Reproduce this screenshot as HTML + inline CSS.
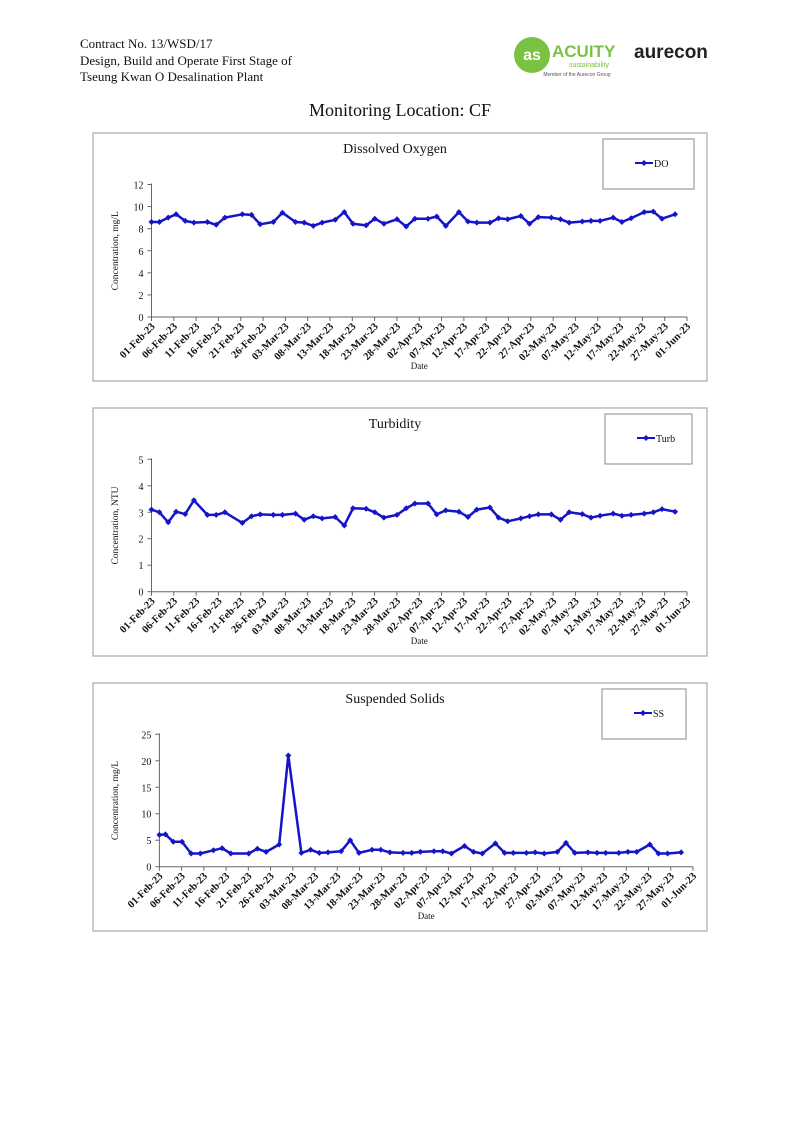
<!DOCTYPE html>
<html><head><meta charset="utf-8"><style>
body{margin:0;background:#fff;width:794px;height:1122px;position:relative;overflow:hidden;font-family:"Liberation Serif",serif}
.h{position:absolute;left:80px;top:36px;font-size:13px;line-height:16.5px;color:#111}
</style></head><body>
<div class="h">Contract No. 13/WSD/17<br>Design, Build and Operate First Stage of<br>Tseung Kwan O Desalination Plant</div>
<svg width="794" height="1122" style="position:absolute;left:0;top:0" id="s">
<circle cx="532" cy="55" r="18" fill="#7cc242"/>
<text x="532" y="60" font-family="Liberation Sans,sans-serif" font-size="16" fill="#fff" text-anchor="middle" font-weight="bold">as</text>
<text x="552" y="57" font-family="Liberation Sans,sans-serif" font-size="17" fill="#7cc242" font-weight="bold">ACUITY</text>
<text x="589" y="67" font-family="Liberation Sans,sans-serif" font-size="7" fill="#7cc242" text-anchor="middle">sustainability</text>
<text x="577" y="76" font-family="Liberation Sans,sans-serif" font-size="5" fill="#555" text-anchor="middle">Member of the Aurecon Group</text>
<text x="634" y="58" font-family="Liberation Sans,sans-serif" font-size="19" fill="#222" font-weight="bold">aurecon</text>
<text x="400" y="116" font-size="18" text-anchor="middle" fill="#111">Monitoring Location: CF</text>
</svg>
<script>
var s=document.getElementById('s'),NS='http://www.w3.org/2000/svg';
function el(t,a,txt){var e=document.createElementNS(NS,t);for(var k in a)e.setAttribute(k,a[k]);if(txt!=null)e.textContent=txt;s.appendChild(e);return e;}
var dates=["01-Feb-23","06-Feb-23","11-Feb-23","16-Feb-23","21-Feb-23","26-Feb-23","03-Mar-23","08-Mar-23","13-Mar-23","18-Mar-23","23-Mar-23","28-Mar-23","02-Apr-23","07-Apr-23","12-Apr-23","17-Apr-23","22-Apr-23","27-Apr-23","02-May-23","07-May-23","12-May-23","17-May-23","22-May-23","27-May-23","01-Jun-23"];
function chart(o){
 var T=o.T;
 el('rect',{x:93,y:T,width:614,height:248,fill:'none',stroke:'#999','stroke-width':1});
 el('text',{x:395,y:T+20,'font-size':14,'text-anchor':'middle',fill:'#111'},o.title);
 el('rect',{x:o.lx,y:T+6,width:o.lw,height:50,fill:'none',stroke:'#888','stroke-width':1});
 el('line',{x1:o.lx+32,y1:T+30,x2:o.lx+50,y2:T+30,stroke:'#1414c8','stroke-width':2});
 el('path',{d:'M'+(o.lx+41)+' '+(T+27)+'l3 3-3 3-3-3z',fill:'#1414c8'});
 el('text',{x:o.lx+51,y:T+34,'font-size':10,fill:'#111'},o.name);
 var x0=o.x0,x1=o.x1,y0=o.y0,y1=o.y1;
 el('line',{x1:x0,y1:y1-1,x2:x0,y2:y0,stroke:'#666'});
 el('line',{x1:x0,y1:y0,x2:x1,y2:y0,stroke:'#666'});
 for(var i=0;i<=o.n;i++){var y=y0-(y0-y1)*i/o.n;
  el('line',{x1:x0-4,y1:y,x2:x0,y2:y,stroke:'#666'});
  el('text',{x:x0-8,y:y+4,'font-size':10,'text-anchor':'end',fill:'#111'},String(i*o.step));}
 for(var j=0;j<25;j++){var x=x0+(x1-x0)*j/24;
  el('line',{x1:x,y1:y0,x2:x,y2:y0+4,stroke:'#666'});
  el('text',{x:x+4,y:y0+10,'font-size':10.5,'font-weight':'bold','text-anchor':'end',fill:'#111',transform:'rotate(-45 '+(x+4)+' '+(y0+10)+')'},dates[j]);}
 el('text',{x:(x0+x1)/2,y:T+236,'font-size':9,'text-anchor':'middle',fill:'#111'},'Date');
 el('text',{x:0,y:0,'font-size':9.5,'text-anchor':'middle',fill:'#111',transform:'translate(118 '+((y0+y1)/2)+') rotate(-90)'},o.ylab);
 var pts=[],zs=o.zs,ze=o.ze;
 o.d.forEach(function(p){var x=x0+(p[0]-zs)/(ze-zs)*(x1-x0);var y=y0-p[1]/(o.n*o.step)*(y0-y1);pts.push([x,y]);});
 el('polyline',{points:pts.map(function(p){return p[0].toFixed(1)+','+p[1].toFixed(1)}).join(' '),fill:'none',stroke:'#1414c8','stroke-width':2.5,'stroke-linejoin':'round'});
 pts.forEach(function(p){el('path',{d:'M'+p[0].toFixed(1)+' '+(p[1]-3).toFixed(1)+'l3 3-3 3-3-3z',fill:'#1414c8'});});
}
chart({T:133,title:'Dissolved Oxygen',name:'DO',lx:603,lw:91,x0:151.5,x1:687,y0:317,y1:184.5,n:6,step:2,zs:155,ze:1505,ylab:'Concentration, mg/L',
d:[[155,8.6],[175,8.6],[197,9.0],[217,9.3],[240,8.7],[262,8.55],[296,8.6],[318,8.35],[340,9.0],[384,9.3],[407,9.25],[429,8.4],[462,8.6],[485,9.45],[518,8.6],[540,8.55],[563,8.25],[585,8.55],[618,8.8],[641,9.5],[663,8.45],[696,8.3],[718,8.9],[741,8.45],[774,8.85],[797,8.2],[819,8.9],[852,8.9],[874,9.1],[897,8.25],[930,9.5],[953,8.65],[975,8.55],[1008,8.55],[1030,8.95],[1053,8.85],[1086,9.15],[1108,8.45],[1130,9.05],[1163,9.0],[1186,8.85],[1208,8.55],[1241,8.65],[1263,8.7],[1286,8.7],[1319,9.0],[1341,8.6],[1364,8.95],[1397,9.5],[1420,9.55],[1442,8.9],[1475,9.3]]});
chart({T:408,title:'Turbidity',name:'Turb',lx:605,lw:87,x0:151.5,x1:687,y0:591.7,y1:459.3,n:5,step:1,zs:155,ze:1505,ylab:'Concentration, NTU',
d:[[155,3.1],[175,3.0],[197,2.62],[217,3.02],[240,2.93],[262,3.45],[296,2.9],[318,2.9],[340,3.0],[384,2.6],[407,2.85],[429,2.92],[462,2.9],[485,2.9],[518,2.95],[540,2.72],[563,2.85],[585,2.77],[618,2.82],[641,2.5],[663,3.15],[696,3.13],[718,3.0],[741,2.8],[774,2.9],[797,3.15],[819,3.33],[852,3.33],[874,2.92],[897,3.07],[930,3.02],[953,2.82],[975,3.1],[1008,3.18],[1030,2.8],[1053,2.66],[1086,2.77],[1108,2.85],[1130,2.92],[1163,2.92],[1186,2.72],[1208,3.0],[1241,2.93],[1263,2.8],[1286,2.87],[1319,2.95],[1341,2.87],[1364,2.9],[1397,2.95],[1420,3.0],[1442,3.12],[1475,3.02]]});
chart({T:683,title:'Suspended Solids',name:'SS',lx:602,lw:84,x0:159.4,x1:693,y0:866.7,y1:734.3,n:5,step:5,zs:175,ze:1520,ylab:'Concentration, mg/L',
d:[[175,6.0],[190,6.1],[210,4.7],[232,4.7],[255,2.5],[278,2.5],[311,3.1],[333,3.5],[355,2.5],[400,2.5],[422,3.4],[444,2.8],[477,4.2],[500,21.0],[533,2.6],[556,3.2],[578,2.6],[600,2.7],[633,2.9],[656,5.0],[678,2.6],[711,3.2],[733,3.2],[756,2.7],[789,2.6],[811,2.6],[833,2.8],[867,2.9],[889,2.9],[911,2.5],[944,3.9],[967,2.8],[989,2.5],[1022,4.4],[1045,2.6],[1067,2.6],[1100,2.6],[1122,2.7],[1145,2.5],[1178,2.8],[1200,4.5],[1222,2.6],[1255,2.7],[1278,2.6],[1300,2.6],[1333,2.6],[1356,2.8],[1378,2.8],[1411,4.2],[1433,2.5],[1456,2.5],[1490,2.7]]});
</script>
</body></html>
